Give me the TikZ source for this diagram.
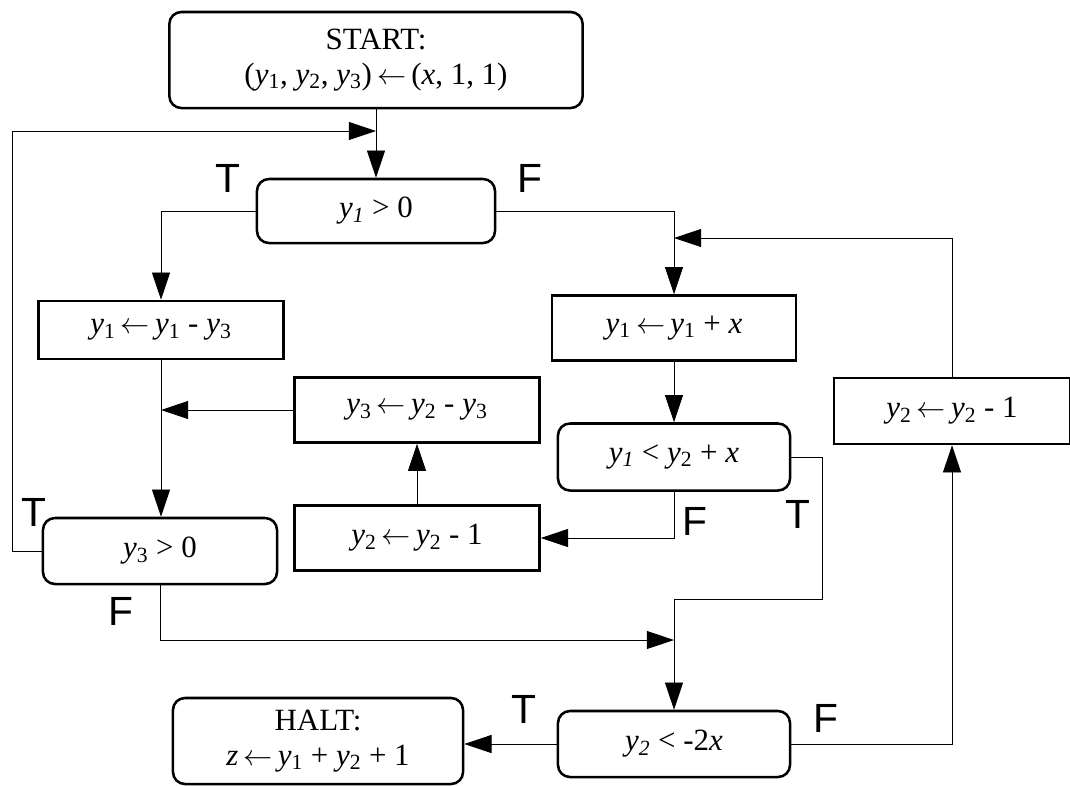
\documentclass[tikz,border=0pt]{standalone}
\usepackage{fontspec}
\setmainfont{Liberation Serif}
\newfontfamily\lblfont{Liberation Sans}
\usetikzlibrary{arrows.meta}

\newcommand{\yv}[1]{\textit{y}\textsubscript{#1}}
\newcommand{\yvi}[1]{\textit{y}\textsubscript{\textit{#1}}}
\newcommand{\asgn}{\,$\leftarrow$\,}

\begin{document}
\begin{tikzpicture}[
    x=0.025cm, y=-0.025cm,
    every node/.style={font=\fontsize{22}{25}\selectfont, align=center},
    box/.style={draw, line width=1.8pt, inner sep=0pt},
    test/.style={box, rounded corners=0.3cm},
    flow/.style={draw=black, line width=0.6pt,
        -{Triangle[length=0.68cm, width=0.45cm]}},
    branch/.style={font=\lblfont\fontsize{29}{30}\selectfont}
]

    % Page
    \useasboundingbox (0,0) rectangle (1070,785);

    % Boxes
    \node[test, minimum width=10.33cm, minimum height=2.4cm] (start) at (376,60)
        {START:\\(\yv{1}, \yv{2}, \yv{3})\asgn(\textit{x}, 1, 1)};
    \node[test, minimum width=5.95cm, minimum height=1.6cm] (c1) at (376,211)
        {\yvi{1} > 0};
    \node[box, minimum width=6.125cm, minimum height=1.45cm] (a1) at (161,330)
        {\yv{1}\asgn\yv{1} - \yv{3}};
    \node[box, minimum width=6.1cm, minimum height=1.625cm] (b1) at (674,328)
        {\yv{1}\asgn\yv{1} + \textit{x}};
    \node[box, minimum width=6.125cm, minimum height=1.625cm] (a3) at (417,410)
        {\yv{3}\asgn\yv{2} - \yv{3}};
    \node[box, minimum width=5.9cm, minimum height=1.65cm] (d2) at (952,411)
        {\yv{2}\asgn\yv{2} - 1};
    \node[test, minimum width=5.8cm, minimum height=1.675cm] (c2) at (674,457)
        {\yvi{1} < \yv{2} + \textit{x}};
    \node[box, minimum width=6.125cm, minimum height=1.625cm] (a2) at (417,538)
        {\yv{2}\asgn\yv{2} - 1};
    \node[test, minimum width=5.85cm, minimum height=1.65cm] (c3) at (160,551)
        {\yv{3} > 0};
    \node[test, minimum width=5.8cm, minimum height=1.65cm] (c4) at (674,744)
        {\yvi{2} < -2\textit{x}};
    \node[test, minimum width=7.25cm, minimum height=2.15cm] (halt) at (318,741)
        {HALT:\\\textit{z}\asgn\yv{1} + \yv{2} + 1};

    % Junctions
    \coordinate (j1) at (376,131);
    \coordinate (j2) at (161,410);
    \coordinate (j3) at (674,640);
    \coordinate (j4) at (674,238);
    \coordinate (tR) at (822,599);

    % Connectors
    \draw[flow] (start.south) -- (c1.north);
    \draw[flow] (c3.west) -- (12,551) |- (j1);
    \draw[flow] (c1.west) -| (a1.north);
    \draw[flow] (a1.south) -- (a1.south |- c3.north);
    \draw[flow] (a3.west) -- (j2);
    \draw[flow] (a2.north) -- (a3.south);
    \draw[flow] (c2.south) |- (a2.east);
    \draw[flow] (c2.east) -| (tR) -| (c4.north);
    \draw[flow] (c3.south) |- (j3);
    \draw[flow] (c1.east) -| (b1.north);
    \draw[flow] (d2.north) |- (j4);
    \draw[flow] (b1.south) -- (c2.north);
    \draw[flow] (c4.east) -| (d2.south);
    \draw[flow] (c4.west) -- (c4.west -| halt.east);

    % Branch labels
    \node[branch] (t1) at (228,178) {T};
    \node[branch] (f1) at (530,178) {F};
    \node[branch] (t3) at (34,512) {T};
    \node[branch] (f3) at (121,611) {F};
    \node[branch] (f2) at (695,521) {F};
    \node[branch] (t2) at (798,514) {T};
    \node[branch] (t4) at (524,709) {T};
    \node[branch] (f4) at (826,718) {F};

\end{tikzpicture}
\end{document}
